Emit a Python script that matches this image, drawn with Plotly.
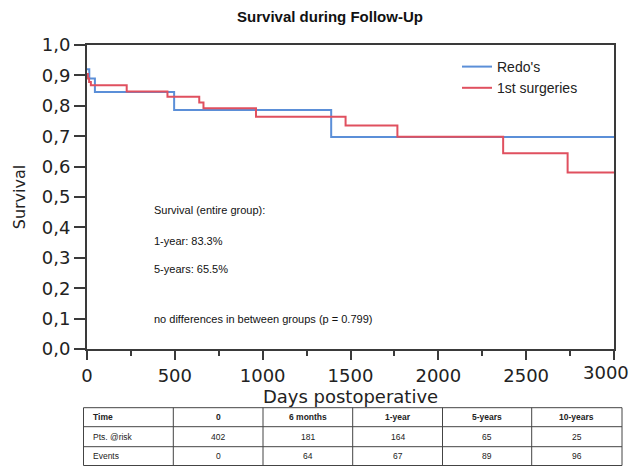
import plotly.graph_objects as go

# Kaplan-Meier step data (days, survival)
redo_days = [0, 13, 45, 496, 1390, 3000]
redo_surv = [0.92, 0.89, 0.845, 0.786, 0.697, 0.697]

first_days = [0, 5, 12, 22, 226, 458, 639, 663, 962, 1472, 1767, 2369, 2736, 3000]
first_surv = [0.905, 0.89, 0.878, 0.868, 0.847, 0.83, 0.811, 0.792, 0.764, 0.735, 0.698, 0.644, 0.581, 0.581]

y_ticks = [0.0, 0.1, 0.2, 0.3, 0.4, 0.5, 0.6, 0.7, 0.8, 0.9, 1.0]
x_ticks = [0, 500, 1000, 1500, 2000, 2500, 3000]
x_minor_ticks = [250, 750, 1250, 1750, 2250, 2750]
x_tick_labels = ["0", "500", "1000", "1500", "2000", "2500", "3000"]

table_header = ["Time", "0", "6 months", "1-year", "5-years", "10-years"]
row_labels = ["Pts. @risk", "Events"]
pts_at_risk = ["402", "181", "164", "65", "25"]
events = ["0", "64", "67", "89", "96"]

notes = [
    "Survival (entire group):",
    "1-year: 83.3%",
    "5-years: 65.5%",
    "no differences in between groups (p = 0.799)",
]
note_y = [0.458, 0.355, 0.262, 0.1]

W, H = 635, 466
px0, px1 = 87, 614
py_top, py_bot = 45, 349
AX = "#3a3a3a"
TXT = "#222"

fig = go.Figure()
fig.add_trace(go.Scatter(x=redo_days, y=redo_surv, mode="lines", line_shape="hv",
                         line=dict(color="#5b8fd8", width=2), name="Redo's"))
fig.add_trace(go.Scatter(x=first_days, y=first_surv, mode="lines", line_shape="hv",
                         line=dict(color="#e0505f", width=2), name="1st surgeries"))

# ---- numbers-at-risk table (grid + text, paper coordinates) ----
col_edges = [83.5, 173.3, 263, 352.7, 442.5, 531.7, 622]
row_edges = [407.7, 426.7, 446.7, 465.5]


def px_x(v):
    return v / W


def px_y(v):
    return 1 - v / H


for xe in col_edges:
    fig.add_shape(type="line", xref="paper", yref="paper",
                  x0=px_x(xe), x1=px_x(xe), y0=px_y(row_edges[0]), y1=px_y(row_edges[-1]),
                  line=dict(color="#444", width=1))
for ye in row_edges:
    fig.add_shape(type="line", xref="paper", yref="paper",
                  x0=px_x(col_edges[0]), x1=px_x(col_edges[-1]), y0=px_y(ye), y1=px_y(ye),
                  line=dict(color="#444", width=1))

table_rows = [table_header, [row_labels[0]] + pts_at_risk, [row_labels[1]] + events]
for r, row in enumerate(table_rows):
    yc = (row_edges[r] + row_edges[r + 1]) / 2
    for c, txt in enumerate(row):
        if c == 0:
            xpos, anchor = col_edges[0] + 7, "left"
        else:
            xpos, anchor = (col_edges[c] + col_edges[c + 1]) / 2, "center"
        fig.add_annotation(x=px_x(xpos), y=px_y(yc), xref="paper", yref="paper",
                           text=("<b>%s</b>" % txt) if r == 0 else txt, showarrow=False,
                           xanchor=anchor, yanchor="middle",
                           font=dict(family="Liberation Sans, Arial", size=8.5, color=TXT))

for t, yv in zip(notes, note_y):
    fig.add_annotation(x=(152 - px0) / (px1 - px0), y=yv, xref="x domain", yref="y domain",
                       text=t, showarrow=False,
                       xanchor="left", yanchor="middle",
                       font=dict(family="Liberation Sans, Arial", size=11, color="#111"))

# last x tick label is nudged left in the original so it fits in the frame
fig.add_annotation(x=x_ticks[-1], y=0, xref="x", yref="y domain", text=x_tick_labels[-1],
                   showarrow=False, xanchor="center", yanchor="top", xshift=-8, yshift=-11,
                   font=dict(family="DejaVu Sans", size=18, color=TXT))

fig.update_layout(
    width=W, height=H,
    margin=dict(l=0, r=0, t=0, b=0, autoexpand=False),
    paper_bgcolor="white", plot_bgcolor="white",
    separators=", ",
    title=dict(text="<b>Survival during Follow-Up</b>", x=330 / W, xanchor="center",
               y=1 - 17 / H, yanchor="middle", automargin=False,
               font=dict(family="Liberation Sans, Arial", size=15, color="#111")),
    xaxis=dict(domain=[px0 / W, px1 / W], range=[0, 3000], tickvals=x_ticks,
               ticktext=x_tick_labels[:-1] + [""],
               automargin=False,
               showline=True, linecolor=AX, linewidth=2, mirror=True,
               ticks="outside", ticklen=9, tickwidth=2, tickcolor=AX,
               minor=dict(tickmode="array", tickvals=x_minor_ticks, ticks="outside",
                          ticklen=5, tickwidth=1.5, tickcolor=AX, showgrid=False),
               showgrid=False, zeroline=False,
               tickfont=dict(family="DejaVu Sans", size=18, color=TXT),
               title=dict(text="Days postoperative", standoff=0,
                          font=dict(family="DejaVu Sans", size=18, color=TXT))),
    yaxis=dict(domain=[(H - py_bot) / H, (H - py_top) / H], range=[0, 1.0],
               tickvals=y_ticks, tickformat=".1f", automargin=False,
               showline=True, linecolor=AX, linewidth=2, mirror=True,
               ticks="outside", ticklen=11, tickwidth=2, tickcolor=AX,
               showgrid=False, zeroline=False,
               tickfont=dict(family="DejaVu Sans", size=18, color=TXT),
               title=dict(text="Survival", standoff=12,
                          font=dict(family="DejaVu Sans", size=16, color=TXT))),
    legend=dict(x=457 / W, y=1 - 51 / H,
                xanchor="left", yanchor="top", bgcolor="rgba(0,0,0,0)",
                font=dict(family="Liberation Sans, Arial", size=14, color=TXT),
                tracegroupgap=0, itemwidth=30),
)

fig.write_html("out.html", config={"displayModeBar": False},
               post_script="document.body.style.margin='0';document.body.style.padding='0';")
